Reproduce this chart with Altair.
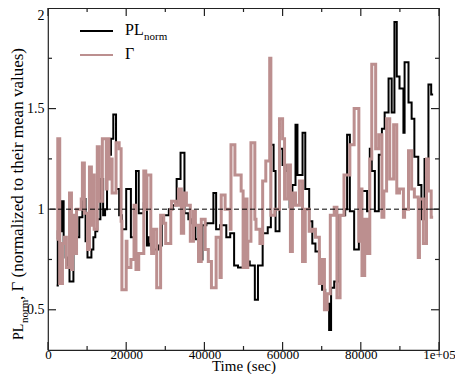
import altair as alt
import pandas as pd

# ---- data ----
PL_T = [2200, 2500, 3500, 4000, 4500, 5000, 5500, 6500, 7000, 8000, 8800, 9600, 10100, 11100,
        11600, 12100, 12600, 13400, 14100, 14600, 15100, 16100, 16700, 17400, 18200, 18900,
        20000, 21200, 22500, 23200, 24500, 25300, 25800, 26500, 28300, 29100, 30900, 31900,
        32900, 33900, 34900, 35900, 36700, 37700, 38500, 39500, 40500, 42300, 43000, 44000,
        45600, 46600, 47600, 48600, 49900, 50400, 51600, 52900, 53700, 54900, 56200, 57000,
        57700, 58200, 59200, 60000, 60800, 61800, 62500, 63300, 63800, 65100, 65800, 66800,
        67600, 68400, 69400, 70100, 70900, 71900, 72400, 73200, 74500, 76000, 76500, 77200,
        78300, 79500, 81600, 82300, 82800, 83600, 84600, 85400, 86100, 87100, 87900, 88600,
        89200, 89900, 90900, 91200, 92200, 93000, 93700, 94700, 95500, 96300, 97300, 98000, 98500]
PL_V = [0.62, 0.89, 1.04, 0.84, 0.76, 0.72, 0.64, 0.80, 0.86, 0.96, 1.05, 0.84, 0.76, 0.80,
        0.86, 0.89, 0.95, 1.15, 0.97, 1.00, 1.27, 1.35, 1.47, 1.10, 0.97, 0.90,
        1.10, 0.86, 1.19, 0.98, 1.03, 0.82, 0.86, 0.80, 0.82, 0.97, 1.00, 1.02,
        1.15, 1.28, 0.98, 0.95, 0.93, 0.85, 0.75, 0.92, 0.93, 1.08, 0.90, 0.92,
        0.86, 0.88, 0.72, 0.71, 0.89, 0.74, 0.72, 0.55, 0.72, 0.88, 0.91, 1.32,
        1.19, 0.89, 1.30, 1.22, 1.19, 1.01, 1.12, 1.42, 1.17, 1.38, 1.10, 0.94,
        0.83, 0.79, 0.68, 0.60, 0.53, 0.40, 0.61, 0.64, 0.97, 1.00, 1.37, 0.99,
        0.80, 1.09, 0.99, 1.30, 1.19, 0.99, 1.27, 1.40, 1.48, 1.65, 1.48, 1.93,
        1.66, 1.60, 1.38, 1.73, 1.53, 1.45, 1.26, 1.12, 0.95, 1.25, 1.62, 1.57, 1.57]

G_T = [2200, 2500, 3000, 3700, 4200, 4700, 5500, 6000, 6300, 6800, 7300, 8500, 8800, 9300,
       10100, 10600, 11100, 11300, 11800, 12600, 13100, 13900, 14900, 15100, 15600, 16100,
       16400, 17400, 18200, 18700, 18900, 20000, 20200, 21200, 22000, 22500, 23200, 24500,
       25000, 25300, 26300, 26500, 27000, 27800, 28800, 29600, 30100, 31400, 31600, 32600,
       33400, 34100, 34700, 35400, 36400, 37200, 37700, 38500, 39200, 40200, 41000, 41800,
       43000, 44000, 44300, 45300, 46600, 46800, 47800, 49400, 49900, 50400, 50900, 51100,
       51900, 52900, 53200, 54200, 54900, 55700, 56700, 57000, 58000, 59200, 60000, 60500,
       61300, 62000, 62500, 63300, 64300, 65100, 65800, 66800, 67600, 68400, 69400, 70100,
       70700, 71400, 72200, 73200, 73900, 74700, 75700, 77200, 78300, 79500, 79800, 80300,
       81000, 81600, 82300, 82800, 83800, 84600, 85400, 85900, 86600, 87400, 88400, 89200,
       89900, 90900, 91200, 92200, 93000, 93700, 94700, 95000, 96000, 96800, 97300, 98000, 98500]
G_V = [0.85, 1.35, 0.63, 0.83, 0.86, 0.71, 1.08, 0.70, 0.97, 0.78, 1.00, 1.05, 1.23, 0.98,
       0.80, 1.21, 0.92, 1.17, 0.90, 1.31, 1.04, 1.35, 1.10, 1.35, 1.15, 1.25,
       1.08, 1.33, 1.30, 0.94, 0.60, 0.84, 0.71, 0.75, 1.02, 0.70, 0.78, 1.19,
       1.00, 1.17, 0.84, 0.78, 0.90, 0.61, 0.97, 0.93, 0.83, 1.00, 1.04, 1.02,
       1.10, 0.88, 1.08, 1.02, 0.84, 0.99, 0.92, 0.74, 0.95, 0.80, 0.74, 0.61,
       0.86, 0.66, 1.07, 1.00, 0.90, 1.32, 1.17, 1.09, 0.71, 1.05, 0.71, 0.84,
       1.33, 0.95, 0.90, 0.83, 1.14, 1.24, 1.75, 0.97, 1.00, 1.45, 1.35, 1.05,
       1.22, 0.79, 1.08, 1.02, 1.14, 0.74, 1.00, 0.89, 0.90, 0.86, 0.63, 0.75,
       0.50, 0.58, 0.97, 1.01, 0.56, 0.97, 1.17, 1.32, 1.50, 0.84, 1.10, 0.67,
       0.95, 0.78, 1.25, 1.72, 1.30, 1.37, 0.96, 1.09, 1.45, 1.15, 1.42, 1.08,
       1.10, 0.96, 1.00, 1.29, 1.10, 1.06, 0.76, 1.05, 0.83, 1.25, 1.09, 0.96, 0.96]

X_MAJOR = [0, 20000, 40000, 60000, 80000, 100000]
X_MINOR = [10000, 30000, 50000, 70000, 90000]
Y_MAJOR = [0.5, 1.0, 1.5, 2.0]
Y_MINOR = [0.75, 1.25, 1.75]
REF = [1.0]

SERIES_NAMES = ["PL", "norm", "Γ"]
YTITLE_REST = ", Γ (normalized to their mean values)"
XTITLE = "Time (sec)"

W, H = 391, 342
FONT = "Liberation Serif"
PINK = "#BC8F8F"
FRAME = "#222222"

x_scale = alt.Scale(domain=[0, 100000], nice=False, zero=False)
y_scale = alt.Scale(domain=[0.3, 2.0], nice=False, zero=False)

x_axis = alt.Axis(values=X_MAJOR, format="d",
                  labelExpr="datum.value >= 100000 ? '1e+05' : datum.label",
                  ticks=False, domain=False, grid=False, labelFont=FONT, labelFontSize=13,
                  labelColor="black", labelPadding=-2, labelFlush=False, labelOverlap=False,
                  title=XTITLE, titleFont=FONT, titleFontSize=15, titleFontWeight="normal",
                  titleColor="black", titleY=20, titleBaseline="alphabetic")
y_axis = alt.Axis(values=Y_MAJOR, format="~g", ticks=False, domain=False, grid=False,
                  labelFont=FONT, labelFontSize=14, labelColor="black", labelPadding=4,
                  labelFlush=True, labelOverlap=False, title=None)


def X(field):
    return alt.X(field, scale=x_scale, axis=x_axis)


def Y(field):
    return alt.Y(field, scale=y_scale, axis=y_axis)


pl = pd.DataFrame({"t": PL_T, "v": PL_V})
gm = pd.DataFrame({"t": G_T, "v": G_V})

line_pl = alt.Chart(pl).mark_line(interpolate="step-after", color="black", strokeWidth=2).encode(
    x=X("t:Q"), y=Y("v:Q"))
line_g = alt.Chart(gm).mark_line(interpolate="step-after", color=PINK, strokeWidth=3).encode(
    x=X("t:Q"), y=Y("v:Q"))
ref = alt.Chart(pd.DataFrame({"v": REF})).mark_rule(
    color="black", strokeDash=[5, 3], strokeWidth=1).encode(y=Y("v:Q"))


def xticks(vals, length):
    d = pd.DataFrame({"t": vals})
    b = alt.Chart(d).mark_rule(color=FRAME, strokeWidth=1.2).encode(
        x=X("t:Q"), y=alt.value(H), y2=alt.value(H - length))
    t = alt.Chart(d).mark_rule(color=FRAME, strokeWidth=1.2).encode(
        x=X("t:Q"), y=alt.value(0), y2=alt.value(length))
    return [b, t]


def yticks(vals, length):
    d = pd.DataFrame({"v": vals})
    l = alt.Chart(d).mark_rule(color=FRAME, strokeWidth=1.2).encode(
        y=Y("v:Q"), x=alt.value(0), x2=alt.value(length))
    r = alt.Chart(d).mark_rule(color=FRAME, strokeWidth=1.2).encode(
        y=Y("v:Q"), x=alt.value(W), x2=alt.value(W - length))
    return [l, r]


def text(s, x, y, size, angle=0):
    kw = dict(font=FONT, fontSize=size, align="left", baseline="alphabetic", color="black")
    if angle:
        kw["angle"] = angle
    return alt.Chart(pd.DataFrame({"s": [s]})).mark_text(**kw).encode(
        x=alt.value(x), y=alt.value(y), text="s:N")


def seg(color, width, x1, x2, y):
    return alt.Chart(pd.DataFrame({"a": [0]})).mark_rule(color=color, strokeWidth=width).encode(
        x=alt.value(x1), x2=alt.value(x2), y=alt.value(y))


layers = [line_pl, line_g, ref]
layers += xticks(X_MAJOR, 8) + xticks(X_MINOR, 4) + yticks(Y_MAJOR, 8) + yticks(Y_MINOR, 4)
layers += [
    seg("black", 2, 32, 65, 23),
    seg(PINK, 2, 32, 65, 47),
    text(SERIES_NAMES[0], 77, 27, 16),
    text(SERIES_NAMES[1], 96, 32, 11),
    text(SERIES_NAMES[2], 77, 51, 16),
    # y-axis title with subscript
    text(SERIES_NAMES[0], -25, 332, 14, 270),
    text(SERIES_NAMES[1], -20.5, 315, 11, 270),
    text(YTITLE_REST, -25, 292, 17, 270),
]

chart = alt.layer(*layers).properties(
    width=W, height=H,
    autosize=alt.AutoSizeParams(type="none"),
    padding={"left": 40, "top": 0, "right": 16, "bottom": 24},
).configure_view(stroke=FRAME, strokeWidth=1.2)

chart.save("out.html", embed_options={"renderer": "svg", "actions": False})
